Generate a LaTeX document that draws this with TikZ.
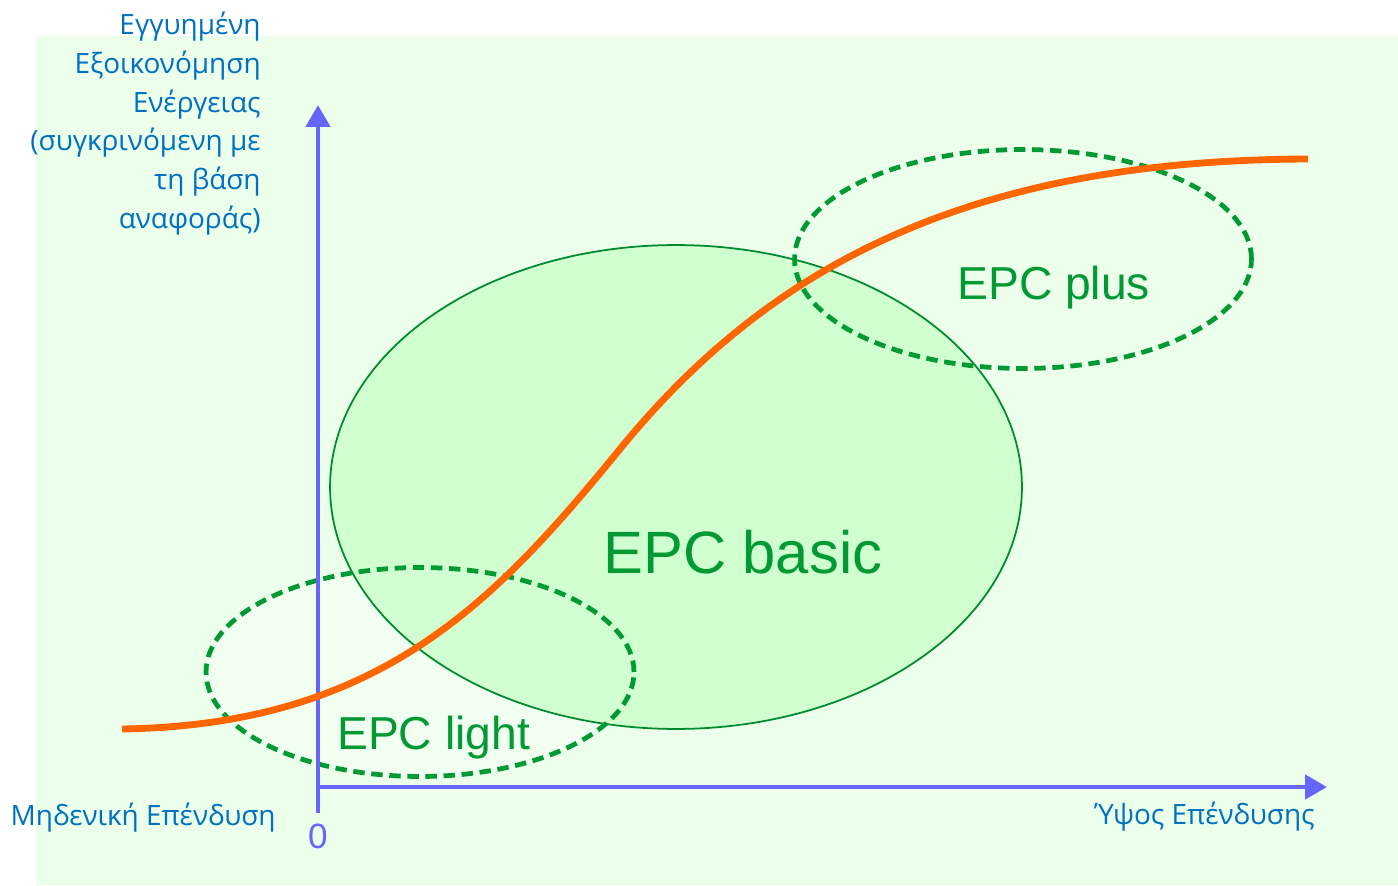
\documentclass[tikz,border=0pt]{standalone}
\usepackage{fontspec}
\usepackage{tikz}
\usetikzlibrary{shapes.geometric, arrows.meta, positioning}
\newfontfamily\axisfont{Open Sans}
\newfontfamily\epcfont{Liberation Sans}
\definecolor{bgGreen}{HTML}{EBFFEB}
\definecolor{fillGreen}{HTML}{CCFFCC}
\definecolor{epcGreen}{HTML}{009933}
\definecolor{axisBlue}{HTML}{6666FF}
\definecolor{textBlue}{HTML}{0070C0}
\definecolor{curveOrange}{HTML}{FF6600}

\begin{document}
\begin{tikzpicture}[x=0.02cm, y=-0.02cm,
    zone/.style={ellipse, inner sep=0pt},
    dashzone/.style={zone, draw=epcGreen, line width=2.7pt, dash pattern=on 6.5pt off 3.8pt},
    epc/.style={text=epcGreen, inner sep=0pt, font=\epcfont},
    axislabel/.style={text=textBlue, inner sep=0pt, font=\axisfont\fontsize{15.9}{22}\selectfont},
    line/.style={draw=axisBlue, line width=2.8pt, -{Triangle[length=0.44cm, width=0.48cm]}}]

    \useasboundingbox (0,0) rectangle (1398,885);
    \fill [bgGreen] (36,36) rectangle (1398,885);

    % zones
    \node [zone, fill=white, fill opacity=0.35, minimum width=8.56cm, minimum height=4.18cm] (lightzone) at (420,672) {};
    \node [zone, draw=epcGreen!90!black, line width=1pt, fill=fillGreen, fill opacity=0.85, minimum width=13.84cm, minimum height=9.68cm] (basiczone) at (676,487) {};
    \node [dashzone, minimum width=8.56cm, minimum height=4.18cm] (lightring) at (420,672) {};
    \node [dashzone, minimum width=9.14cm, minimum height=4.38cm] (plusring) at (1023,259) {};

    % axes
    \coordinate (origin) at (318,787);
    \coordinate (ytail) at (318,813);
    \coordinate (ytop) at (318,105);
    \coordinate (xend) at (1327,787);
    \path [line] (ytail) -- (ytop);
    \path [line] (origin) -- (xend);

    % saving curve
    \coordinate (cstart) at (122,729);
    \coordinate (cmid) at (620,449);
    \coordinate (cend) at (1308,159);
    \draw [curveOrange, line width=3.9pt] (cstart) .. controls (380,725) and (495,602) .. (cmid)
        .. controls (770,265) and (970,160) .. (cend);

    % labels
    \node [epc, anchor=base west, font=\epcfont\fontsize{34}{40}\selectfont] (basic) at (603,573) {EPC basic};
    \node [epc, anchor=base west, font=\epcfont\fontsize{26.3}{30}\selectfont] (plus) at (957,299) {EPC plus};
    \node [epc, anchor=base west, font=\epcfont\fontsize{26.3}{30}\selectfont] (light) at (337,749) {EPC light};

    \node [axislabel, anchor=north east, align=right] (ylabel) at (261,12)
        {Εγγυημένη\\Εξοικονόμηση\\Ενέργειας\\(συγκρινόμενη με\\τη βάση\\αναφοράς)};
    \node [axislabel, anchor=base east] (zeroinvest) at (276,825) {Μηδενική Επένδυση};
    \node [axislabel, anchor=base east] (xlabel) at (1315,824) {Ύψος Επένδυσης};
    \node [text=axisBlue, inner sep=0pt, anchor=base, font=\epcfont\fontsize{20}{22}\selectfont] (zero) at (318,848) {0};
\end{tikzpicture}
\end{document}
